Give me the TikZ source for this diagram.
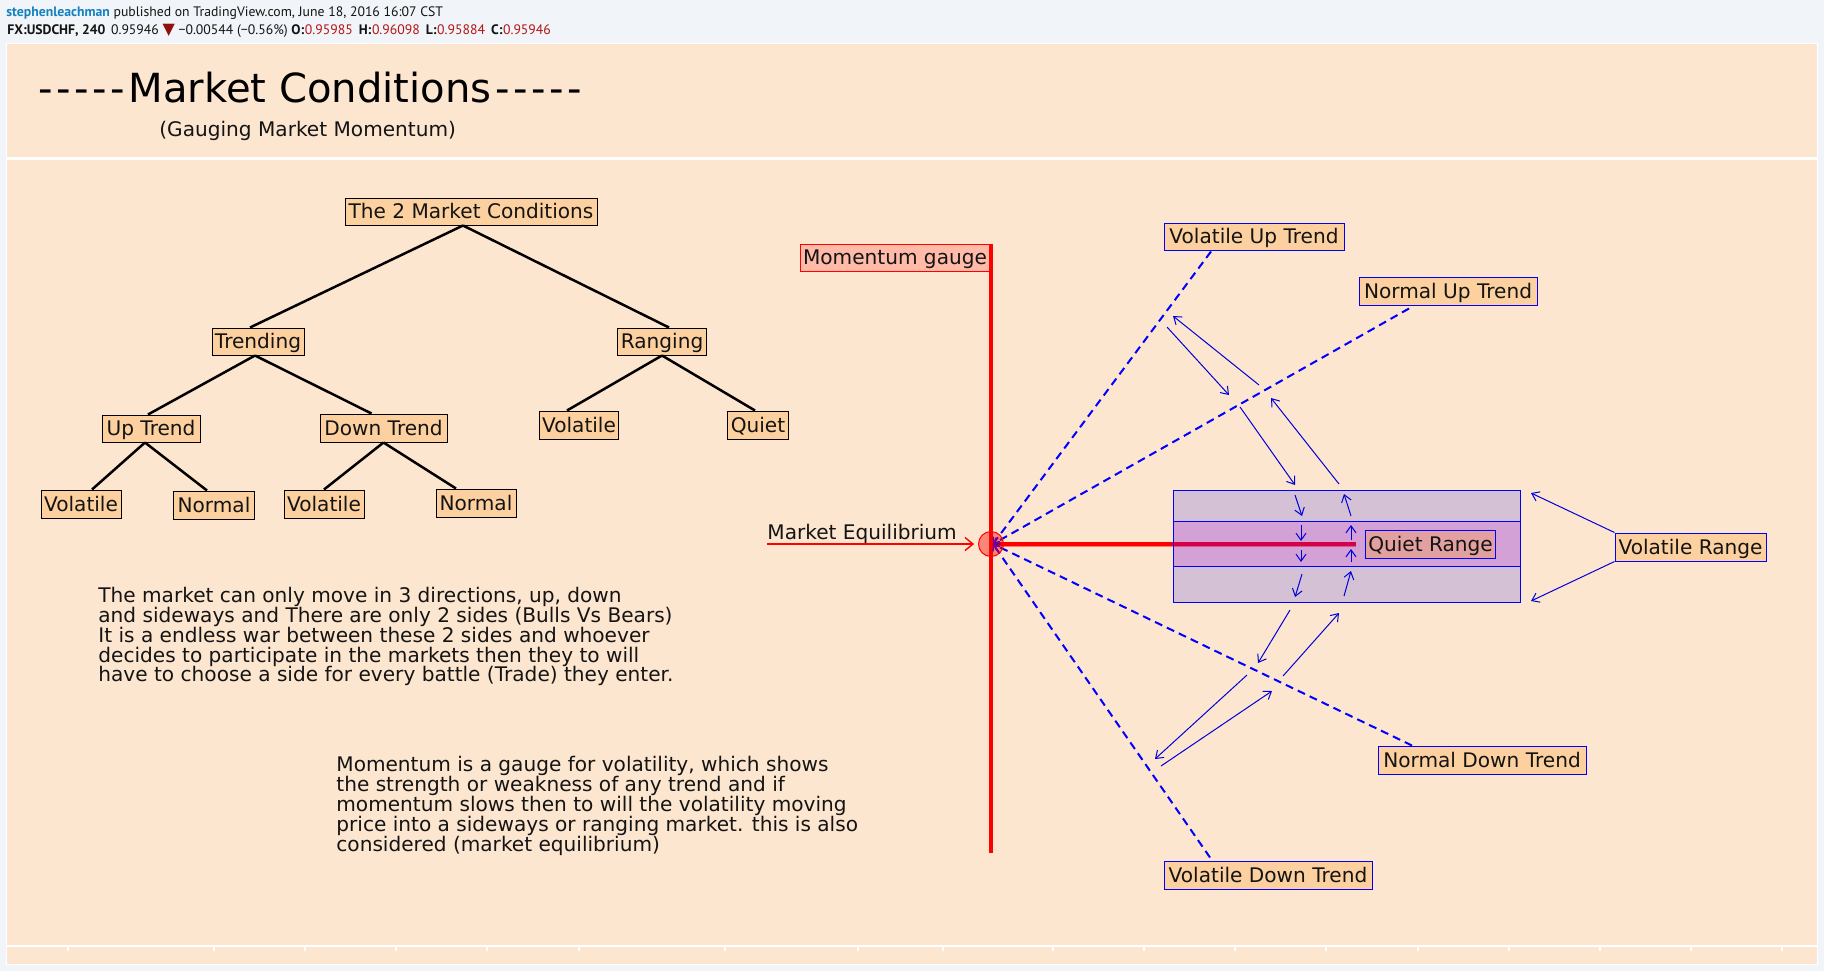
\documentclass[tikz,border=0pt]{standalone}
\usepackage{fontspec}
\setmainfont{DejaVu Sans}
\newfontfamily\hdr{PT Sans}
\usetikzlibrary{arrows.meta}
\definecolor{pagebg}{RGB}{241,244,248}
\definecolor{panel}{RGB}{253,230,207}
\definecolor{boxor}{RGB}{253,208,160}
\definecolor{inktext}{RGB}{20,20,20}
\definecolor{linkblue}{RGB}{20,130,190}
\definecolor{valred}{RGB}{180,20,20}
\definecolor{gaugefill}{RGB}{255,186,168}
\definecolor{quietfill}{RGB}{226,160,160}
\definecolor{innerband}{RGB}{215,0,225}
\newcommand{\hy}{-\kern1.8pt}
\tikzset{
 x=0.5pt,y=-0.5pt,
 lab/.style={draw=black,line width=0.5pt,fill=boxor,inner sep=0pt,font=\fontsize{10.05}{12}\selectfont,text=inktext,anchor=center,text height=8.2pt,text depth=1.2pt},
 blab/.style={lab,draw=blue},
 treeln/.style={line width=1.25pt,black},
 dashln/.style={line width=1pt,blue,dash pattern=on 4pt off 2.6pt,-{Straight Barb[length=2.5pt,width=4pt,line width=0.7pt]}},
 thinarrow/.style={line width=0.5pt,blue!85!black,-{Straight Barb[length=3.5pt,width=5pt,line width=0.5pt]}},
 para/.style={anchor=base west,inner sep=0pt,font=\fontsize{10.05}{12}\selectfont,text=inktext},
}
\begin{document}
\begin{tikzpicture}
\useasboundingbox (0,0) rectangle (1824,971);
\fill[pagebg] (0,0) rectangle (1824,971);
% panels
\fill[white] (6,43) rectangle (1818,965);
\fill[panel] (7,44) rectangle (1817,157);
\fill[panel] (7,160) rectangle (1817,945);
\fill[panel] (7,947) rectangle (1817,964);
\foreach \t in {68,214,305,396,487,579,725,858,943,1053,1144,1235,1326,1418,1509,1600,1691,1782}
  \draw[white,line width=0.6pt] (\t,947) -- (\t,951);
% header
\node[anchor=west,inner sep=0pt,font=\hdr\fontsize{6.87}{8}\selectfont,text=inktext] (h1) at (6,13) {{\bfseries\color{linkblue}stephenleachman} published on TradingView.com, June 18, 2016 16:07 CST};
\node[anchor=west,inner sep=0pt,font=\hdr\fontsize{6.87}{8}\selectfont,text=inktext] (h2) at (7,31) {{\bfseries FX:USDCHF, 240}\hskip2.8pt 0.95946 {\color{valred!80!black}\fontspec{DejaVu Sans}\fontsize{8}{8}\selectfont ▼} −0.00544 (−0.56\%) {\bfseries O:}\hskip.3pt{\color{valred}0.95985}\hskip3pt{\bfseries H:}\hskip.3pt{\color{valred}0.96098}\hskip3pt{\bfseries L:}\hskip.3pt{\color{valred}0.95884}\hskip3pt{\bfseries C:}\hskip.3pt{\color{valred}0.95946}};
% titles
\node[anchor=west,inner sep=0pt,font=\fontsize{20.05}{24}\selectfont,text=black] (title) at (38,88) {\hy\hy\hy\hy\hy Market Conditions\kern1.8pt\hy\hy\hy\hy -};
\node[anchor=west,inner sep=0pt,font=\fontsize{10.05}{12}\selectfont,text=inktext] (subt) at (159,131) {(Gauging Market Momentum)};
% tree
\node[lab,minimum width=126pt,minimum height=13.5pt] (top) at (471,211.5) {The 2 Market Conditions};
\node[lab,minimum width=46pt,minimum height=13.5pt] (trend) at (258,341.5) {Trending};
\node[lab,minimum width=44.5pt,minimum height=13.5pt] (rang) at (662,341.5) {Ranging};
\node[lab,minimum width=49pt,minimum height=13.5pt] (up) at (151,428.5) {Up Trend};
\node[lab,minimum width=63.5pt,minimum height=14pt] (down) at (383.5,428) {Down Trend};
\node[lab,minimum width=39.5pt,minimum height=14pt] (rvol) at (579,425) {Volatile};
\node[lab,minimum width=30.5pt,minimum height=14pt] (rq) at (758,425) {Quiet};
\node[lab,minimum width=40pt,minimum height=14pt] (v1) at (81,504) {Volatile};
\node[lab,minimum width=40.5pt,minimum height=14pt] (n1) at (214,505) {Normal};
\node[lab,minimum width=40pt,minimum height=14pt] (v2) at (324,504) {Volatile};
\node[lab,minimum width=40pt,minimum height=14pt] (n2) at (476,503) {Normal};
\draw[treeln] ([xshift=-4pt]top.south) -- ([xshift=-4pt]trend.north);
\draw[treeln] ([xshift=-4pt]top.south) -- ([xshift=3.5pt]rang.north);
\draw[treeln] ([xshift=-1.5pt]trend.south) -- ([xshift=-1.5pt]up.north);
\draw[treeln] ([xshift=-1.5pt]trend.south) -- ([xshift=-6pt]down.north);
\draw[treeln] (rang.south) -- ([xshift=-6pt]rvol.north);
\draw[treeln] (rang.south) -- ([xshift=-1.5pt]rq.north);
\draw[treeln] ([xshift=-3pt]up.south) -- ([xshift=5.5pt]v1.north);
\draw[treeln] ([xshift=-3pt]up.south) -- ([xshift=-3.5pt]n1.north);
\draw[treeln] (down.south) -- (v2.north);
\draw[treeln] (down.south) -- ([xshift=-10pt]n2.north);
% paragraphs
\node[para] (p11) at (98,602) {The market can only move in 3 directions, up, down};
\node[para] (p12) at (98,622) {and sideways and There are only 2 sides (Bulls Vs Bears)};
\node[para] (p13) at (98,642) {It is a endless war between these 2 sides and whoever};
\node[para] (p14) at (98,662) {decides to participate in the markets then they to will};
\node[para] (p15) at (98,681.5) {have to choose a side for every battle (Trade) they enter.};
\node[para] (p21) at (336,771) {Momentum is a gauge for volatility, which shows};
\node[para] (p22) at (336,791) {the strength or weakness of any trend and if};
\node[para] (p23) at (336,811) {momentum slows then to will the volatility moving};
\node[para] (p24) at (336,831) {price into a sideways or ranging market. this is also};
\node[para] (p25) at (336,851) {considered (market equilibrium)};
% momentum gauge and equilibrium axes
\node[lab,draw=red,fill=gaugefill,minimum width=95pt,minimum height=13.5pt] (mg) at (895,257.5) {Momentum gauge};
\coordinate (gt) at (991,244);
\coordinate (gb) at (991,853);
\draw[red,line width=1.6pt] (gt) -- (gb);
\node[circle,minimum size=12.5pt,inner sep=0pt] (eq) at (991,544) {};
\node[para] (melab) at (767,539.5) {Market Equilibrium};
\coordinate (ms) at (767,544);
\draw[red,line width=0.7pt,-{Straight Barb[length=4pt,width=6.5pt,line width=0.7pt]}] (ms) -- ([xshift=-2pt]eq.west);
\coordinate (rlend) at (1356,544);
\draw[red,opacity=0.45,line width=2.5pt] (eq.center) -- (rlend);
\draw[red,line width=1.7pt] (eq.center) -- (rlend);
% range boxes (over the red line)
\fill[blue,opacity=0.16] (1173,490) rectangle (1520,602);
\fill[innerband,opacity=0.16] (1173,521) rectangle (1520,566);
\draw[blue,line width=0.5pt] (1173,490) rectangle (1520,602);
\draw[blue,line width=0.5pt] (1173,521) -- (1520,521) (1173,566) -- (1520,566);
% blue labels
\node[blab,minimum width=90pt,minimum height=13.5pt] (vu) at (1254,236.5) {Volatile Up Trend};
\node[blab,minimum width=89pt,minimum height=14pt] (nu) at (1448,291) {Normal Up Trend};
\node[blab,minimum width=75.5pt,minimum height=14pt] (vr) at (1690.5,547) {Volatile Range};
\node[blab,minimum width=104pt,minimum height=14pt] (nd) at (1482,760) {Normal Down Trend};
\node[blab,minimum width=104pt,minimum height=14pt] (vd) at (1268,875) {Volatile Down Trend};
\node[blab,fill=quietfill,minimum width=65pt,minimum height=14pt] (qr) at (1430.5,544) {Quiet Range};
% dashed
\coordinate (ec) at (993,544);
\draw[dashln] ([xshift=-21.5pt,yshift=-0.5pt]vu.south) -- (ec);
\draw[dashln] ([xshift=-19.5pt,yshift=-1.5pt]nu.south) -- (ec);
\draw[dashln] ([xshift=-35pt]nd.north) -- (ec);
\draw[dashln] ([xshift=-29pt,yshift=1.5pt]vd.north) -- (ec);
% translucent disc over the line ends
\fill[red,opacity=0.42] (eq.center) circle [radius=6.25pt];
\draw[red,line width=0.5pt] (eq.center) circle [radius=6.25pt];
% thin arrows
\foreach \i/\ax/\ay/\bx/\by in {
 a/1259/385/1173/316, b/1167/327/1229/395, c/1240/407/1295/485, d/1339/484/1271/398,
 e/1295/495/1302/516, f/1301/525/1301/541, g/1301/550/1301/562, h/1302/574/1295/597,
 i/1351/516/1344/494, j/1351/540/1351/525, k/1351/562/1351/549, l/1344/596/1351/571,
 m/1290/610/1258/663, n/1283/676/1339/613, o/1247/675/1155/759, p/1161/766/1272/691}{
  \coordinate (s\i) at (\ax,\ay);
  \coordinate (t\i) at (\bx,\by);
  \draw[thinarrow] (s\i) -- (t\i);
}
\coordinate (vra) at (1531,493);
\coordinate (vrb) at (1531,601);
\draw[thinarrow] (vr.north west) -- (vra);
\draw[thinarrow] (vr.south west) -- (vrb);
\end{tikzpicture}
\end{document}
